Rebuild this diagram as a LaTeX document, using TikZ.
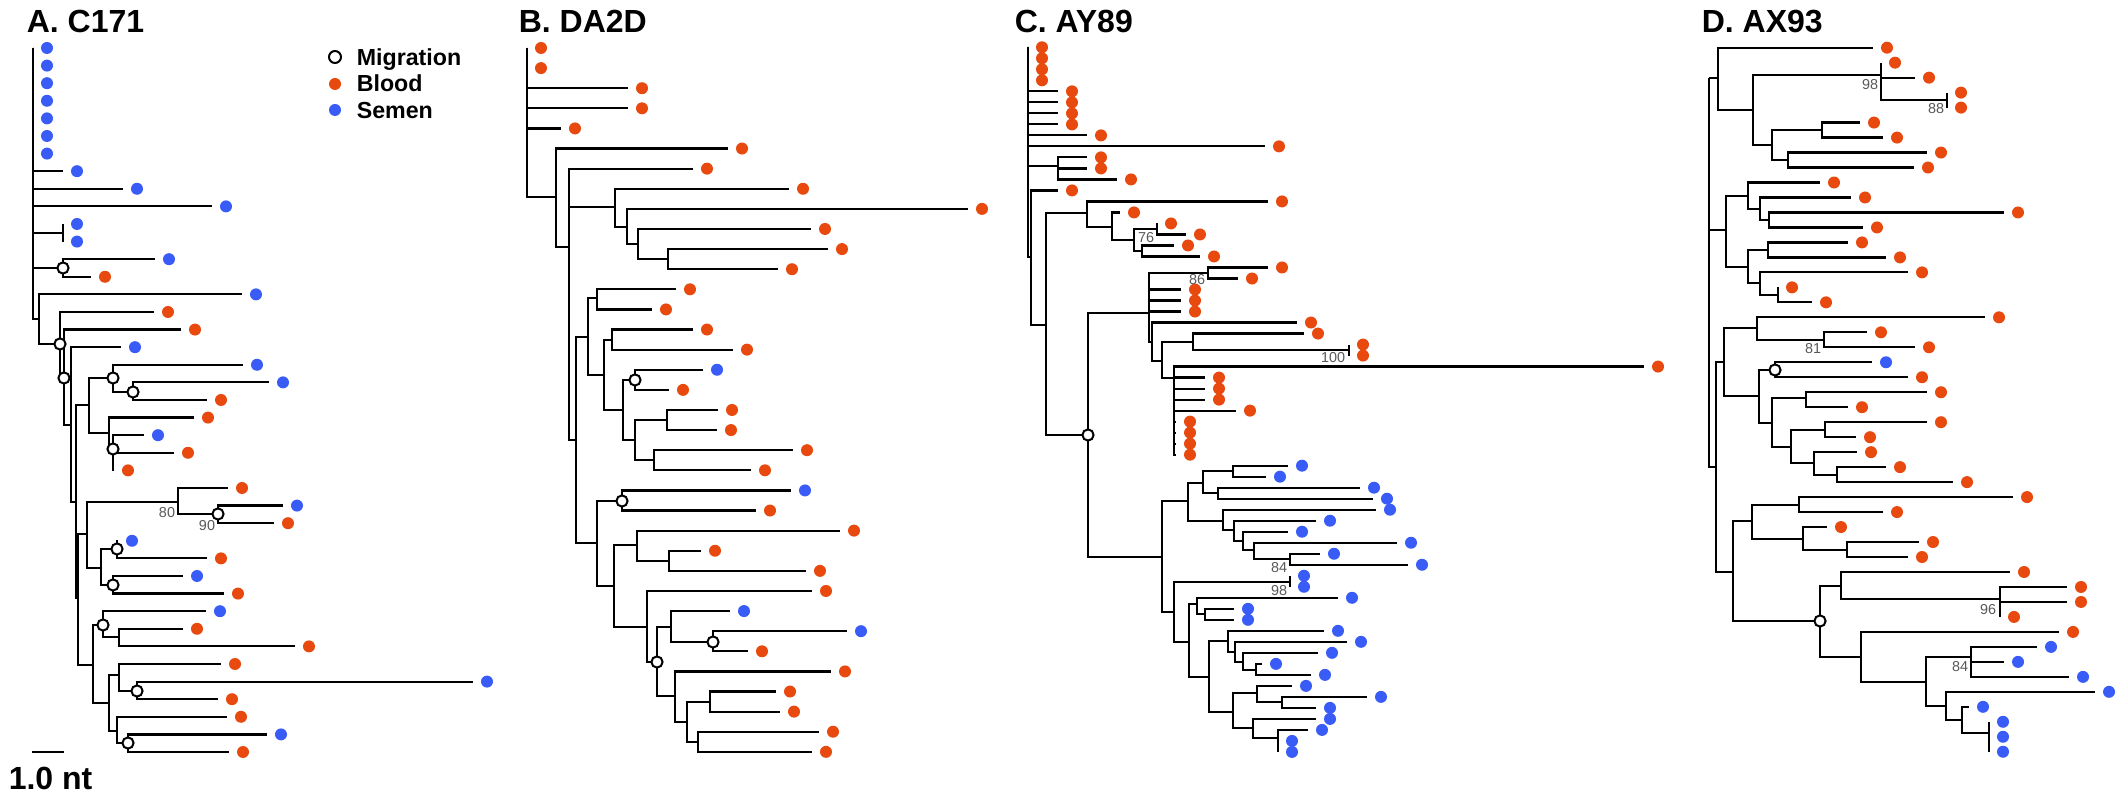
\documentclass[tikz,border=0pt]{standalone}
\usepackage{fontspec}
\setmainfont{Liberation Sans}
\definecolor{blood}{RGB}{231,73,15}
\definecolor{semen}{RGB}{57,91,246}
\tikzset{
  edge/.style={line width=0.55pt, draw=black},
  dotB/.style={circle, fill=blood, inner sep=0pt, minimum size=3pt},
  dotS/.style={circle, fill=semen, inner sep=0pt, minimum size=3pt},
  mig/.style={circle, draw=black, fill=white, line width=0.5pt, inner sep=0pt, minimum size=2.8pt},
  boot/.style={font=\fontsize{3.6}{4}\selectfont, text=black!65, inner sep=0pt},
  ttl/.style={font=\bfseries\fontsize{8}{9}\selectfont, inner sep=0pt, anchor=base west},
  leg/.style={font=\bfseries\fontsize{5.8}{7}\selectfont, inner sep=0pt, anchor=base west},
}
\newcommand\tipB[3]{\coordinate (#1) at (#2,{\yo+\dy*(#3-1)}); \node[dotB] (#1d) at (#2+14,{\yo+\dy*(#3-1)}) {};}
\newcommand\tipS[3]{\coordinate (#1) at (#2,{\yo+\dy*(#3-1)}); \node[dotS] (#1d) at (#2+14,{\yo+\dy*(#3-1)}) {};}
\newcommand\nd[3]{\coordinate (#1) at (#2,#3);}
\newcommand\br[2]{\foreach \kid in {#2}{\draw[edge] (#1) |- (\kid);}}
\newcommand\migs[1]{\foreach \mm in {#1}{\node[mig] (\mm c) at (\mm) {};}}
\begin{document}
\begin{tikzpicture}[x=0.25pt,y=-0.25pt]
\fill[white] (0,0) rectangle (2128,800);
\useasboundingbox (0,0) rectangle (2128,800);

% ---------------- titles ----------------
\node[ttl] (tA) at (26,33) {A. C171};
\node[ttl] (tB) at (518,33) {B. DA2D};
\node[ttl] (tC) at (1014,33) {C. AY89};
\node[ttl] (tD) at (1701,33) {D. AX93};

% ---------------- legend ----------------
\node[mig, minimum size=3pt] (legM) at (335,57) {};
\node[leg] (legMt) at (356,66) {Migration};
\node[dotB] (legB) at (335,84) {};
\node[leg] (legBt) at (356,92) {Blood};
\node[dotS] (legS) at (335,110) {};
\node[leg] (legSt) at (356,119) {Semen};

% ---------------- scale bar ----------------
\coordinate (sb1) at (32,752);
\coordinate (sb2) at (64,752);
\draw[edge] (sb1) -- (sb2);
\node[ttl] (sbt) at (8,789) {1.0 nt};

% ================= Panel A =================
\def\yo{48}\def\dy{17.6}
\nd{aR}{33}{48}
\nd{aN11}{63}{233}
\nd{aM1}{63}{268}
\nd{aK}{39}{319}
\nd{aM2}{60}{344}
\nd{aM3}{64}{378}
\nd{aP}{71}{425}
\nd{aQ}{76}{502}
\nd{aS1}{89}{405}
\nd{aM4}{113}{378}
\nd{aM5}{133}{392}
\nd{aS2}{109}{433}
\nd{aM6}{113}{449}
\nd{aU}{78}{598}
\nd{aV}{87}{534}
\nd{aX}{178}{502}
\nd{aM7}{218}{514}
\nd{aY}{101}{568}
\nd{aM8}{117}{549}
\nd{aM9}{113}{585}
\nd{aW}{93}{665}
\nd{aM10}{103}{625}
\nd{aAA}{119}{637}
\nd{aZ}{109}{703}
\nd{aBB}{119}{675}
\nd{aM11}{137}{691}
\nd{aCC}{117}{731}
\nd{aM12}{128}{743}
\tipS{a1}{33}{1}\tipS{a2}{33}{2}\tipS{a3}{33}{3}\tipS{a4}{33}{4}
\tipS{a5}{33}{5}\tipS{a6}{33}{6}\tipS{a7}{33}{7}
\tipS{a8}{63}{8}\tipS{a9}{123}{9}\tipS{a10}{212}{10}
\tipS{a11}{63}{11}\tipS{a12}{63}{12}
\tipS{a13}{155}{13}\tipB{a14}{91}{14}
\tipS{a15}{242}{15}\tipB{a16}{154}{16}\tipB{a17}{181}{17}\tipS{a18}{121}{18}
\tipS{a19}{243}{19}\tipS{a20}{269}{20}\tipB{a21}{207}{21}\tipB{a22}{194}{22}
\tipS{a23}{144}{23}\tipB{a24}{174}{24}\tipB{a25}{114}{25}\tipB{a26}{228}{26}
\tipS{a27}{283}{27}\tipB{a28}{274}{28}\tipS{a29}{118}{29}\tipB{a30}{207}{30}
\tipS{a31}{183}{31}\tipB{a32}{224}{32}\tipS{a33}{206}{33}\tipB{a34}{183}{34}
\tipB{a35}{295}{35}\tipB{a36}{221}{36}\tipS{a37}{473}{37}\tipB{a38}{218}{38}
\tipB{a39}{227}{39}\tipS{a40}{267}{40}\tipB{a41}{229}{41}
\br{aR}{a1,a2,a3,a4,a5,a6,a7,a8,a9,a10,aN11,aM1,aK}
\br{aN11}{a11,a12}
\br{aM1}{a13,a14}
\br{aK}{a15,aM2}
\br{aM2}{a16,aM3}
\br{aM3}{a17,aP}
\br{aP}{a18,aQ}
\br{aQ}{aS1,aU}
\br{aS1}{aM4,aS2}
\br{aM4}{a19,aM5}
\br{aM5}{a20,a21}
\br{aS2}{a22,aM6}
\br{aM6}{a23,a24,a25}
\br{aU}{aV,aW}
\br{aV}{aX,aY}
\br{aX}{a26,aM7}
\br{aM7}{a27,a28}
\br{aY}{aM8,aM9}
\br{aM8}{a29,a30}
\br{aM9}{a31,a32}
\br{aW}{aM10,aZ}
\br{aM10}{a33,aAA}
\br{aAA}{a34,a35}
\br{aZ}{aBB,aCC}
\br{aBB}{a36,aM11}
\br{aM11}{a37,a38}
\br{aCC}{a39,aM12}
\br{aM12}{a40,a41}
\migs{aM1,aM2,aM3,aM4,aM5,aM6,aM7,aM8,aM9,aM10,aM11,aM12}
\node[boot] (bsA1) at (167,513) {80};
\node[boot] (bsA2) at (207,526) {90};

% ================= Panel B =================
\def\yo{48}\def\dy{20.11}
\nd{bR}{527}{48}
\nd{bB1}{556}{197}
\nd{bB2}{569}{247}
\nd{bB3}{615}{207}
\nd{bB3b}{627}{227}
\nd{bB3c}{638}{244}
\nd{bB3d}{668}{259}
\nd{bB4}{576}{440}
\nd{bB5}{588}{337}
\nd{bB7}{597}{298}
\nd{bB8}{604}{375}
\nd{bB9}{612}{340}
\nd{bB10}{623}{410}
\nd{bMB1}{635}{380}
\nd{bB11}{635}{440}
\nd{bB12}{667}{420}
\nd{bB13}{654}{460}
\nd{bB6}{597}{543}
\nd{bMB2}{622}{501}
\nd{bB14}{614}{586}
\nd{bB15}{637}{545}
\nd{bB17}{669}{561}
\nd{bB16}{647}{627}
\nd{bMB3}{657}{662}
\nd{bB18}{671}{627}
\nd{bMB4}{713}{642}
\nd{bB19}{675}{696}
\nd{bB20}{687}{722}
\nd{bB21}{710}{702}
\nd{bB22}{698}{742}
\tipB{b1}{527}{1}\tipB{b2}{527}{2}\tipB{b3}{628}{3}\tipB{b4}{628}{4}
\tipB{b5}{561}{5}\tipB{b6}{728}{6}\tipB{b7}{693}{7}\tipB{b8}{789}{8}
\tipB{b9}{968}{9}\tipB{b10}{811}{10}\tipB{b11}{828}{11}\tipB{b12}{778}{12}
\tipB{b13}{676}{13}\tipB{b14}{652}{14}\tipB{b15}{693}{15}\tipB{b16}{733}{16}
\tipS{b17}{703}{17}\tipB{b18}{669}{18}\tipB{b19}{718}{19}\tipB{b20}{717}{20}
\tipB{b21}{793}{21}\tipB{b22}{751}{22}\tipS{b23}{791}{23}\tipB{b24}{756}{24}
\tipB{b25}{840}{25}\tipB{b26}{701}{26}\tipB{b27}{806}{27}\tipB{b28}{812}{28}
\tipS{b29}{730}{29}\tipS{b30}{847}{30}\tipB{b31}{748}{31}\tipB{b32}{831}{32}
\tipB{b33}{776}{33}\tipB{b34}{780}{34}\tipB{b35}{819}{35}\tipB{b36}{812}{36}
\br{bR}{b1,b2,b3,b4,b5,bB1}
\br{bB1}{b6,bB2}
\br{bB2}{b7,bB3,bB4}
\br{bB3}{b8,bB3b}
\br{bB3b}{b9,bB3c}
\br{bB3c}{b10,bB3d}
\br{bB3d}{b11,b12}
\br{bB4}{bB5,bB6}
\br{bB5}{bB7,bB8}
\br{bB7}{b13,b14}
\br{bB8}{bB9,bB10}
\br{bB9}{b15,b16}
\br{bB10}{bMB1,bB11}
\br{bMB1}{b17,b18}
\br{bB11}{bB12,bB13}
\br{bB12}{b19,b20}
\br{bB13}{b21,b22}
\br{bB6}{bMB2,bB14}
\br{bMB2}{b23,b24}
\br{bB14}{bB15,bB16}
\br{bB15}{b25,bB17}
\br{bB17}{b26,b27}
\br{bB16}{b28,bMB3}
\br{bMB3}{bB18,bB19}
\br{bB18}{b29,bMB4}
\br{bMB4}{b30,b31}
\br{bB19}{b32,bB20}
\br{bB20}{bB21,bB22}
\br{bB21}{b33,b34}
\br{bB22}{b35,b36}
\migs{bMB1,bMB2,bMB3,bMB4}

% ================= Panel C =================
\def\yo{47.3}\def\dy{11.01}
\nd{cR}{1028}{47}
\nd{cC1}{1058}{166}
\nd{cC2}{1031}{257}
\nd{cC3}{1046}{325}
\nd{cC4}{1087}{213}
\nd{cC5}{1112}{227}
\nd{cC6}{1134}{240}
\nd{cC7}{1157}{229}
\nd{cC8}{1142}{251}
\nd{cMC}{1088}{435}
\nd{cC9}{1149}{313}
\nd{cC10}{1208}{273}
\nd{cC11}{1152}{342}
\nd{cC12}{1162}{361}
\nd{cC13}{1193}{342}
\nd{cC13b}{1349}{350}
\nd{cC14}{1174}{378}
\nd{cC20}{1162}{557}
\nd{cC21}{1188}{501}
\nd{cC23}{1203}{483}
\nd{cC25}{1233}{471}
\nd{cC26}{1218}{493}
\nd{cC24}{1223}{521}
\nd{cC27}{1234}{530}
\nd{cC28}{1243}{541}
\nd{cC29}{1254}{550}
\nd{cC30}{1290}{559}
\nd{cC22}{1174}{612}
\nd{cC31}{1290}{582}
\nd{cC32}{1189}{642}
\nd{cC33}{1197}{604}
\nd{cC35}{1205}{614}
\nd{cC34}{1209}{677}
\nd{cC36}{1228}{641}
\nd{cC38}{1235}{652}
\nd{cC39}{1243}{662}
\nd{cC40}{1256}{670}
\nd{cC37}{1233}{712}
\nd{cC41}{1257}{693}
\nd{cC43}{1282}{702}
\nd{cC42}{1253}{728}
\nd{cC44}{1278}{738}
\tipB{c1}{1028}{1}\tipB{c2}{1028}{2}\tipB{c3}{1028}{3}\tipB{c4}{1028}{4}
\tipB{c5}{1058}{5}\tipB{c6}{1058}{6}\tipB{c7}{1058}{7}\tipB{c8}{1058}{8}
\tipB{c9}{1087}{9}\tipB{c10}{1265}{10}
\tipB{c11}{1087}{11}\tipB{c12}{1087}{12}\tipB{c13}{1117}{13}
\tipB{c14}{1058}{14}\tipB{c15}{1268}{15}\tipB{c16}{1120}{16}
\tipB{c17}{1157}{17}\tipB{c18}{1186}{18}\tipB{c19}{1174}{19}\tipB{c20}{1200}{20}
\tipB{c21}{1268}{21}\tipB{c22}{1238}{22}
\tipB{c23}{1181}{23}\tipB{c24}{1181}{24}\tipB{c25}{1181}{25}
\tipB{c26}{1297}{26}\tipB{c27}{1304}{27}\tipB{c28}{1349}{28}\tipB{c29}{1349}{29}
\tipB{c30}{1644}{30}\tipB{c31}{1205}{31}\tipB{c32}{1205}{32}\tipB{c33}{1205}{33}
\tipB{c34}{1236}{34}\tipB{c35}{1176}{35}\tipB{c36}{1176}{36}\tipB{c37}{1176}{37}
\tipB{c38}{1176}{38}
\tipS{c39}{1288}{39}\tipS{c40}{1266}{40}\tipS{c41}{1360}{41}\tipS{c42}{1373}{42}
\tipS{c43}{1376}{43}\tipS{c44}{1316}{44}\tipS{c45}{1288}{45}\tipS{c46}{1397}{46}
\tipS{c47}{1320}{47}\tipS{c48}{1408}{48}\tipS{c49}{1290}{49}\tipS{c50}{1290}{50}
\tipS{c51}{1338}{51}\tipS{c52}{1234}{52}\tipS{c53}{1234}{53}\tipS{c54}{1324}{54}
\tipS{c55}{1347}{55}\tipS{c56}{1318}{56}\tipS{c57}{1262}{57}\tipS{c58}{1311}{58}
\tipS{c59}{1292}{59}\tipS{c60}{1367}{60}\tipS{c61}{1316}{61}\tipS{c62}{1316}{62}
\tipS{c63}{1308}{63}\tipS{c64}{1278}{64}\tipS{c65}{1278}{65}
\br{cR}{c1,c2,c3,c4,c5,c6,c7,c8,c9,c10,cC1,cC2}
\br{cC1}{c11,c12,c13}
\br{cC2}{c14,cC3}
\br{cC3}{cC4,cMC}
\br{cC4}{c15,cC5}
\br{cC5}{c16,cC6}
\br{cC6}{cC7,cC8}
\br{cC7}{c17,c18}
\br{cC8}{c19,c20}
\br{cMC}{cC9,cC20}
\br{cC9}{cC10,c23,c24,c25,cC11}
\br{cC10}{c21,c22}
\br{cC11}{c26,cC12}
\br{cC12}{cC13,cC14}
\br{cC13}{c27,cC13b}
\br{cC13b}{c28,c29}
\br{cC14}{c30,c31,c32,c33,c34,c35,c36,c37,c38}
\br{cC20}{cC21,cC22}
\br{cC21}{cC23,cC24}
\br{cC23}{cC25,cC26}
\br{cC25}{c39,c40}
\br{cC26}{c41,c42}
\br{cC24}{c43,cC27}
\br{cC27}{c44,cC28}
\br{cC28}{c45,cC29}
\br{cC29}{c46,cC30}
\br{cC30}{c47,c48}
\br{cC22}{cC31,cC32}
\br{cC31}{c49,c50}
\br{cC32}{cC33,cC34}
\br{cC33}{c51,cC35}
\br{cC35}{c52,c53}
\br{cC34}{cC36,cC37}
\br{cC36}{c54,cC38}
\br{cC38}{c55,cC39}
\br{cC39}{c56,cC40}
\br{cC40}{c57,c58}
\br{cC37}{cC41,cC42}
\br{cC41}{c59,cC43}
\br{cC43}{c60,c61}
\br{cC42}{c62,cC44}
\br{cC44}{c63,c64,c65}
\migs{cMC}
\node[boot] (bsC1) at (1146,238) {76};
\node[boot] (bsC2) at (1197,280) {86};
\node[boot] (bsC3) at (1333,358) {100};
\node[boot] (bsC4) at (1279,568) {84};
\node[boot] (bsC5) at (1279,591) {98};

% ================= Panel D =================
\def\yo{47.7}\def\dy{14.98}
\nd{dR}{1709}{78}
\nd{dD1}{1718}{78}
\nd{dD2}{1726}{230}
\nd{dD3}{1716}{467}
\nd{dD4}{1753}{110}
\nd{dD5}{1881}{75}
\nd{dD7}{1947}{100}
\nd{dD6}{1772}{145}
\nd{dD8}{1822}{130}
\nd{dD9}{1788}{160}
\nd{dD10}{1748}{196}
\nd{dD12}{1760}{209}
\nd{dD13}{1769}{220}
\nd{dD11}{1748}{267}
\nd{dD14}{1768}{250}
\nd{dD15}{1760}{283}
\nd{dD16}{1778}{295}
\nd{dD17}{1724}{362}
\nd{dD19}{1757}{328}
\nd{dD21}{1824}{340}
\nd{dD20}{1759}{396}
\nd{dMD1}{1775}{370}
\nd{dD22}{1772}{423}
\nd{dD23}{1806}{398}
\nd{dD24}{1791}{447}
\nd{dD25}{1825}{430}
\nd{dD26}{1814}{463}
\nd{dD27}{1837}{475}
\nd{dD18}{1733}{572}
\nd{dD28}{1752}{521}
\nd{dD29}{1799}{505}
\nd{dD30}{1803}{539}
\nd{dD31}{1847}{550}
\nd{dMD2}{1820}{621}
\nd{dD32}{1841}{586}
\nd{dD34}{2000}{599}
\nd{dD33}{1861}{657}
\nd{dD35}{1926}{682}
\nd{dD36}{1971}{657}
\nd{dD37}{1946}{706}
\nd{dD38}{1962}{720}
\nd{dD39}{1989}{733}
\tipB{d1}{1873}{1}\tipB{d2}{1881}{2}\tipB{d3}{1915}{3}\tipB{d4}{1947}{4}
\tipB{d5}{1947}{5}\tipB{d6}{1860}{6}\tipB{d7}{1883}{7}\tipB{d8}{1927}{8}
\tipB{d9}{1914}{9}\tipB{d10}{1820}{10}\tipB{d11}{1851}{11}\tipB{d12}{2004}{12}
\tipB{d13}{1863}{13}\tipB{d14}{1848}{14}\tipB{d15}{1886}{15}\tipB{d16}{1908}{16}
\tipB{d17}{1778}{17}\tipB{d18}{1812}{18}\tipB{d19}{1985}{19}\tipB{d20}{1867}{20}
\tipB{d21}{1915}{21}\tipS{d22}{1872}{22}\tipB{d23}{1908}{23}\tipB{d24}{1927}{24}
\tipB{d25}{1848}{25}\tipB{d26}{1927}{26}\tipB{d27}{1856}{27}\tipB{d28}{1857}{28}
\tipB{d29}{1886}{29}\tipB{d30}{1953}{30}\tipB{d31}{2013}{31}\tipB{d32}{1883}{32}
\tipB{d33}{1827}{33}\tipB{d34}{1919}{34}\tipB{d35}{1908}{35}\tipB{d36}{2010}{36}
\tipB{d37}{2067}{37}\tipB{d38}{2067}{38}\tipB{d39}{2000}{39}\tipB{d40}{2059}{40}
\tipS{d41}{2037}{41}\tipS{d42}{2004}{42}\tipS{d43}{2069}{43}\tipS{d44}{2095}{44}
\tipS{d45}{1969}{45}\tipS{d46}{1989}{46}\tipS{d47}{1989}{47}\tipS{d48}{1989}{48}
\br{dR}{dD1,dD2,dD3}
\br{dD1}{d1,dD4}
\br{dD4}{dD5,dD6}
\br{dD5}{d2,d3,dD7}
\br{dD7}{d4,d5}
\br{dD6}{dD8,dD9}
\br{dD8}{d6,d7}
\br{dD9}{d8,d9}
\br{dD2}{dD10,dD11}
\br{dD10}{d10,dD12}
\br{dD12}{d11,dD13}
\br{dD13}{d12,d13}
\br{dD11}{dD14,dD15}
\br{dD14}{d14,d15}
\br{dD15}{d16,dD16}
\br{dD16}{d17,d18}
\br{dD3}{dD17,dD18}
\br{dD17}{dD19,dD20}
\br{dD19}{d19,dD21}
\br{dD21}{d20,d21}
\br{dD20}{dMD1,dD22}
\br{dMD1}{d22,d23}
\br{dD22}{dD23,dD24}
\br{dD23}{d24,d25}
\br{dD24}{dD25,dD26}
\br{dD25}{d26,d27}
\br{dD26}{d28,dD27}
\br{dD27}{d29,d30}
\br{dD18}{dD28,dMD2}
\br{dD28}{dD29,dD30}
\br{dD29}{d31,d32}
\br{dD30}{d33,dD31}
\br{dD31}{d34,d35}
\br{dMD2}{dD32,dD33}
\br{dD32}{d36,dD34}
\br{dD34}{d37,d38,d39}
\br{dD33}{d40,dD35}
\br{dD35}{dD36,dD37}
\br{dD36}{d41,d42,d43}
\br{dD37}{d44,dD38}
\br{dD38}{d45,dD39}
\br{dD39}{d46,d47,d48}
\migs{dMD1,dMD2}
\node[boot] (bsD1) at (1870,85) {98};
\node[boot] (bsD2) at (1936,109) {88};
\node[boot] (bsD3) at (1813,349) {81};
\node[boot] (bsD4) at (1988,610) {96};
\node[boot] (bsD5) at (1960,667) {84};
\end{tikzpicture}
\end{document}
